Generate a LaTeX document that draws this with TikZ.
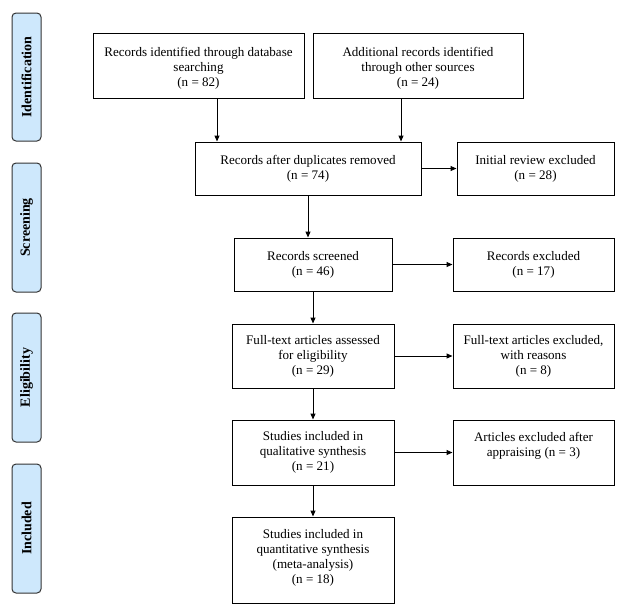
\documentclass[tikz,border=0pt]{standalone}
\usepackage{fontspec}
\setmainfont{Liberation Serif}
\usetikzlibrary{arrows.meta}
\definecolor{sidefill}{RGB}{206,232,252}
\begin{document}
\begin{tikzpicture}[x=0.75pt,y=-0.75pt,
  box/.style={draw=black,line width=0.75pt,fill=white,align=center,inner sep=2pt,
    font=\fontsize{9.8pt}{11.25pt}\selectfont},
  side/.style={draw=black!80,line width=0.75pt,fill=sidefill,rounded corners=3pt,
    minimum width=21.75pt,inner sep=0pt},
  sidetext/.style={rotate=90,font=\fontsize{10.5pt}{12pt}\selectfont\bfseries},
  arr/.style={line width=0.75pt,-{Triangle[length=4.5pt,width=3.75pt]}}]
\useasboundingbox (0,0) rectangle (626,615);
% side labels
\node[side,minimum height=96pt] (sid) at (26.5,77) {};
\node[sidetext] (sidt) at (sid.center) {Identification};
\node[side,minimum height=96.75pt] (sscr) at (26.5,227.5) {};
\node[sidetext] (sscrt) at (sscr.center) {Screening};
\node[side,minimum height=96.75pt] (selg) at (26.5,377.5) {};
\node[sidetext] (selgt) at (selg.center) {Eligibility};
\node[side,minimum height=96.75pt] (sinc) at (26.5,528.5) {};
\node[sidetext] (sinct) at (sinc.center) {Included};
% boxes
\node[box,minimum width=158.25pt,minimum height=48.75pt,text height=33pt] (b1) at (198.5,65.5)
  {Records identified through database\\searching\\(n = 82)};
\node[box,minimum width=157.5pt,minimum height=48.75pt,text height=33pt] (b2) at (418,65.5)
  {Additional records identified\\through other sources\\(n = 24)};
\node[box,minimum width=169.5pt,minimum height=39.75pt] (b3) at (308,168.5)
  {Records after duplicates removed\\(n = 74)};
\node[box,minimum width=117.75pt,minimum height=39.75pt] (b4) at (535.5,168.5)
  {Initial review excluded\\(n = 28)};
\node[box,minimum width=118.5pt,minimum height=39.75pt] (b5) at (313,264.5)
  {Records screened\\(n = 46)};
\node[box,minimum width=120.75pt,minimum height=39.75pt] (b6) at (533.5,264.5)
  {Records excluded\\(n = 17)};
\node[box,minimum width=121.5pt,minimum height=48pt] (b7) at (313,356)
  {Full-text articles assessed\\for eligibility\\(n = 29)};
\node[box,minimum width=120.75pt,minimum height=48pt] (b8) at (533.5,356)
  {Full-text articles excluded,\\with reasons\\(n = 8)};
\node[box,minimum width=121.5pt,minimum height=48.75pt] (b9) at (313,452.5)
  {Studies included in\\qualitative synthesis\\(n = 21)};
\node[box,minimum width=120.75pt,minimum height=48.75pt,text depth=12pt] (b10) at (533.5,452.5)
  {Articles excluded after\\appraising (n = 3)};
\node[box,minimum width=121.5pt,minimum height=64.5pt,text depth=6pt] (b11) at (313,560)
  {Studies included in\\quantitative synthesis\\(meta-analysis)\\(n = 18)};
% connectors
\draw[arr] ([xshift=13.875pt]b1.south) -- ([xshift=13.875pt]b1.south |- b3.north);
\draw[arr] ([xshift=-12.75pt]b2.south) -- ([xshift=-12.75pt]b2.south |- b3.north);
\draw[arr] (b3.east) -- (b4.west);
\draw[arr] (b3.south) -- (b3.south |- b5.north);
\draw[arr] (b5.east) -- (b6.west);
\draw[arr] (b5.south) -- (b7.north);
\draw[arr] (b7.east) -- (b8.west);
\draw[arr] (b7.south) -- (b9.north);
\draw[arr] (b9.east) -- (b10.west);
\draw[arr] (b9.south) -- (b11.north);
\end{tikzpicture}
\end{document}
